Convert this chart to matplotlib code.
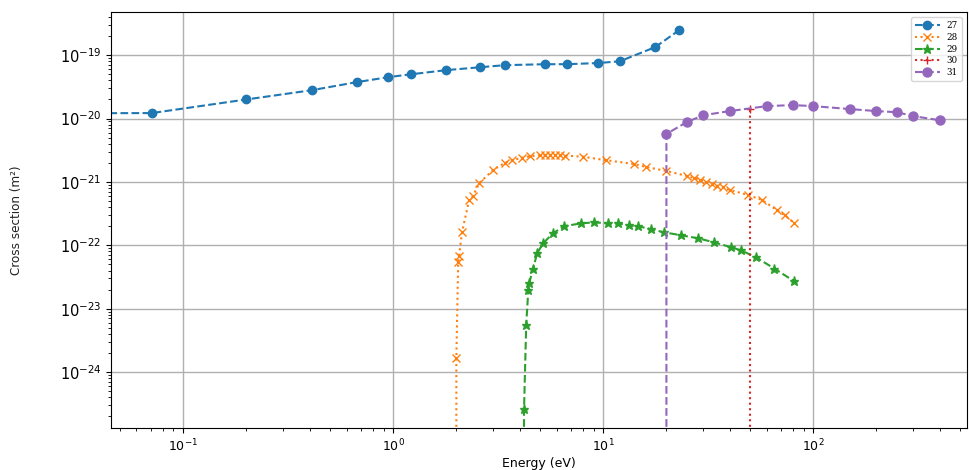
from pathlib import Path

import matplotlib

matplotlib.use("Agg")
import matplotlib.pyplot as plt
from matplotlib import font_manager

# Clipped start value: the threshold lines come up from below the axis
BELOW = 1e-30

# 27
ENERGY_27 = [0.01, 0.071, 0.20, 0.41, 0.67, 0.95, 1.22, 1.79, 2.6, 3.4, 5.3, 6.7, 9.4, 12.0, 17.7, 23.0]
SIGMA_27 = [1.2e-20, 1.22e-20, 2.0e-20, 2.8e-20, 3.75e-20, 4.5e-20, 5.0e-20, 5.8e-20, 6.45e-20,
            6.95e-20, 7.2e-20, 7.2e-20, 7.5e-20, 8.0e-20, 1.34e-19, 2.48e-19]

# 28
ENERGY_28 = [2.0, 2.0, 2.04, 2.06, 2.13, 2.3, 2.4, 2.57, 3.0, 3.4, 3.7, 4.1, 4.5, 5.0, 5.3, 5.6,
             5.9, 6.2, 6.6, 8.0, 10.3, 14.0, 16.0, 20.0, 25.0, 27.0, 29.0, 31.0, 33.0, 35.0, 37.0,
             40.0, 49.0, 57.0, 67.0, 73.0, 81.0]
SIGMA_28 = [BELOW, 1.66e-24, 5.5e-23, 6.8e-23, 1.63e-22, 5.2e-22, 6.0e-22, 9.6e-22, 1.55e-21,
            2.0e-21, 2.2e-21, 2.4e-21, 2.55e-21, 2.62e-21, 2.67e-21, 2.68e-21, 2.67e-21, 2.65e-21,
            2.6e-21, 2.5e-21, 2.2e-21, 1.92e-21, 1.72e-21, 1.49e-21, 1.24e-21, 1.15e-21, 1.07e-21,
            1.0e-21, 9.3e-22, 8.7e-22, 8.3e-22, 7.5e-22, 6.2e-22, 5.2e-22, 3.6e-22, 3.0e-22, 2.25e-22]

# 29
ENERGY_29 = [4.16, 4.2, 4.3, 4.4, 4.44, 4.64, 4.85, 5.18, 5.78, 6.52, 7.85, 9.06, 10.6, 11.8,
             13.2, 14.7, 16.9, 19.5, 23.5, 28.3, 33.8, 40.7, 45.4, 53.5, 65.2, 81.3]
SIGMA_29 = [BELOW, 2.6e-25, 5.5e-24, 1.95e-23, 2.5e-23, 4.3e-23, 7.5e-23, 1.08e-22, 1.55e-22,
            2.0e-22, 2.22e-22, 2.3e-22, 2.22e-22, 2.22e-22, 2.06e-22, 2.0e-22, 1.79e-22, 1.6e-22,
            1.44e-22, 1.29e-22, 1.11e-22, 9.3e-23, 8.3e-23, 6.45e-23, 4.3e-23, 2.7e-23]

# 30
ENERGY_30 = [50.0, 50.0]
SIGMA_30 = [BELOW, 1.41e-20]

# 31
ENERGY_31 = [20.0, 20.0, 25.0, 30.0, 40.0, 60.0, 80.0, 100.0, 150.0, 200.0, 250.0, 300.0, 400.0]
SIGMA_31 = [BELOW, 5.7e-21, 8.8e-21, 1.13e-20, 1.31e-20, 1.57e-20, 1.63e-20, 1.57e-20, 1.41e-20,
            1.31e-20, 1.26e-20, 1.09e-20, 9.4e-21]

SERIES = [
    ("27", ENERGY_27, SIGMA_27),
    ("28", ENERGY_28, SIGMA_28),
    ("29", ENERGY_29, SIGMA_29),
    ("30", ENERGY_30, SIGMA_30),
    ("31", ENERGY_31, SIGMA_31),
]

STYLES = {
    "27": dict(color="#1f77b4", linestyle="--", marker="o", markersize=6),
    "28": dict(color="#ff7f0e", linestyle=":", marker="x", markersize=6),
    "29": dict(color="#2ca02c", linestyle="--", marker="*", markersize=6.5),
    "30": dict(color="#d62728", linestyle=":", marker="+", markersize=6),
    "31": dict(color="#9467bd", linestyle="--", marker="o", markersize=6.5),
}


def narrow_font() -> font_manager.FontProperties:
    # regular-weight condensed face if one is installed
    for family in ["Liberation Sans Narrow", "DejaVu Sans", "Open Sans", "Roboto"]:
        for entry in font_manager.fontManager.ttflist:
            if (entry.name == family and entry.style == "normal"
                    and entry.weight in (400, "normal", "regular")
                    and (family == "Liberation Sans Narrow" or "ondensed" in str(entry.stretch) or "Condensed" in entry.fname)):
                return font_manager.FontProperties(fname=entry.fname)
    return font_manager.FontProperties(family="DejaVu Sans")


def plot_cross_sections(output_path: Path) -> None:
    fig = plt.figure(figsize=(9.69, 4.70), dpi=100)
    ax = fig.add_axes([0.1146, 0.0894, 0.8834, 0.8846])

    for label, energy, sigma in SERIES:
        ax.plot(energy, sigma, label=label, linewidth=1.5, **STYLES[label])

    ax.set_xscale("log")
    ax.set_yscale("log")
    ax.set_xlim(0.0454, 540)
    ax.set_ylim(1.31e-25, 4.76e-19)

    ax.grid(True, which="major", color="#b0b0b0", linewidth=1.0)
    ax.tick_params(axis="x", which="major", labelsize=9)
    ax.tick_params(axis="y", which="major", labelsize=10.5)

    ax.set_xlabel("Energy (eV)", fontsize=9, labelpad=2)
    ylabel_font = narrow_font()
    ylabel_font.set_size(9.5)
    ax.set_ylabel("Cross section (m²)", fontproperties=ylabel_font,
                  color="#222222", labelpad=26)

    ax.legend(
        loc="upper right",
        prop={"family": "DejaVu Serif", "size": 6.3},
        handlelength=2.8,
        labelspacing=0.3,
        borderpad=0.45,
        borderaxespad=0.6,
        framealpha=0.8,
    )

    fig.savefig(output_path, dpi=100)
    plt.close(fig)


def main() -> None:
    plot_cross_sections(Path("out.png"))


if __name__ == "__main__":
    main()
